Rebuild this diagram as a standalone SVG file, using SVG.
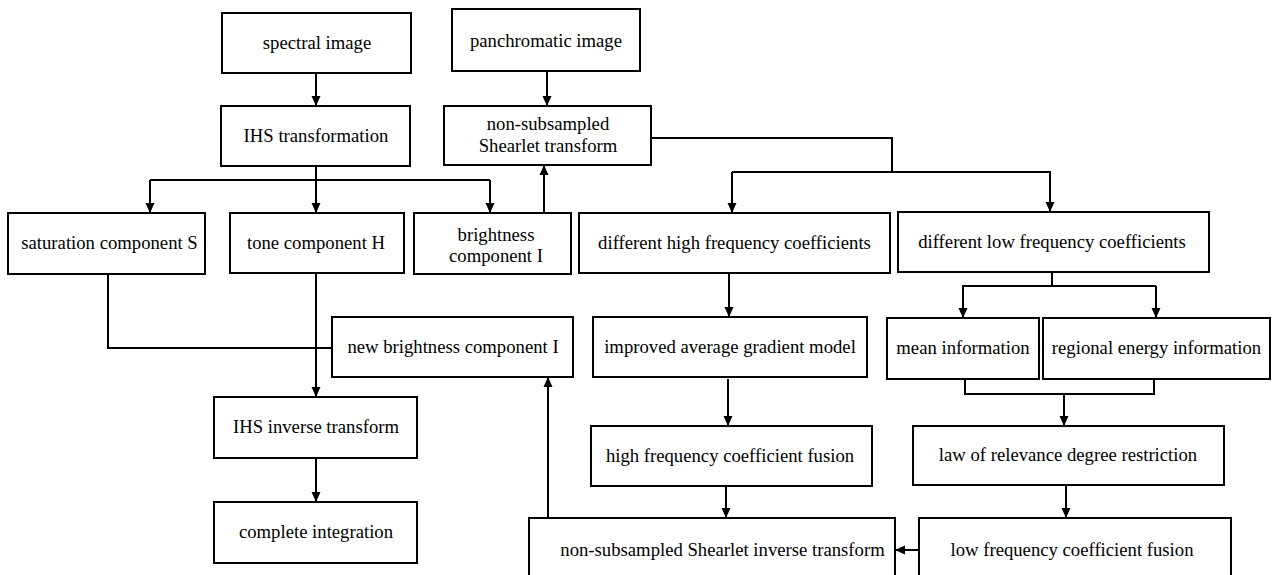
<svg xmlns="http://www.w3.org/2000/svg" width="1272" height="575" viewBox="0 0 1272 575">
<style>
.box{fill:#fff;stroke:#000;stroke-width:2}
.t{font-family:"Liberation Serif","Times New Roman",serif;font-size:18.7px;fill:#000;text-anchor:middle}
.c{fill:none;stroke:#000;stroke-width:2}
</style>
<defs>
<marker id="ah" markerWidth="10" markerHeight="10" refX="10" refY="5" orient="auto" markerUnits="userSpaceOnUse">
<path d="M0,0.5 L10,5 L0,9.5 z" fill="#000"/>
</marker>
</defs>
<rect width="1272" height="575" fill="#fff"/>
<g id="connectors">
<path class="c" d="M316,73 V106" marker-end="url(#ah)"/>
<path class="c" d="M316,166 V180"/>
<path class="c" d="M150,180 H490"/>
<path class="c" d="M150,180 V213" marker-end="url(#ah)"/>
<path class="c" d="M316,180 V213" marker-end="url(#ah)"/>
<path class="c" d="M490,180 V213" marker-end="url(#ah)"/>
<path class="c" d="M547,71 V106" marker-end="url(#ah)"/>
<path class="c" d="M544,213 V165" marker-end="url(#ah)"/>
<path class="c" d="M651,138 H892 V172"/>
<path class="c" d="M732,172 H1051"/>
<path class="c" d="M732,172 V213" marker-end="url(#ah)"/>
<path class="c" d="M1050,172 V212" marker-end="url(#ah)"/>
<path class="c" d="M729,273 V317" marker-end="url(#ah)"/>
<path class="c" d="M728,379 V426" marker-end="url(#ah)"/>
<path class="c" d="M726,486 V518" marker-end="url(#ah)"/>
<path class="c" d="M1052,272 V286"/>
<path class="c" d="M962,286 H1156"/>
<path class="c" d="M963,286 V318" marker-end="url(#ah)"/>
<path class="c" d="M1156,286 V318" marker-end="url(#ah)"/>
<path class="c" d="M965,379 V394 H1154 V379"/>
<path class="c" d="M1064,394 V426" marker-end="url(#ah)"/>
<path class="c" d="M1066,485 V518" marker-end="url(#ah)"/>
<path class="c" d="M919,550 H895" marker-end="url(#ah)"/>
<path class="c" d="M548,518 V377" marker-end="url(#ah)"/>
<path class="c" d="M108,274 V348 H332"/>
<path class="c" d="M316,273 V397" marker-end="url(#ah)"/>
<path class="c" d="M316,458 V502" marker-end="url(#ah)"/>
</g>
<g id="spectral"><rect class="box" x="222" y="13" width="189" height="60"/><text class="t" x="317" y="49">spectral image</text></g>
<g id="ihs"><rect class="box" x="221" y="106" width="189" height="60"/><text class="t" x="316" y="142">IHS transformation</text></g>
<g id="pan"><rect class="box" x="452" y="9" width="188" height="62"/><text class="t" x="546" y="47">panchromatic image</text></g>
<g id="nsst"><rect class="box" x="444" y="106" width="207" height="59"/><text class="t" x="548" y="130">non-subsampled</text><text class="t" x="548" y="152">Shearlet transform</text></g>
<g id="sat"><rect class="box" x="8" y="213" width="197" height="61"/><text class="t" x="109.5" y="249">saturation component S</text></g>
<g id="tone"><rect class="box" x="230" y="213" width="174" height="60"/><text class="t" x="316" y="249">tone component H</text></g>
<g id="bright"><rect class="box" x="414" y="213" width="157" height="61"/><text class="t" x="496" y="241">brightness</text><text class="t" x="496" y="262">component I</text></g>
<g id="dhigh"><rect class="box" x="579" y="213" width="311" height="60"/><text class="t" x="734.5" y="249">different high frequency coefficients</text></g>
<g id="dlow"><rect class="box" x="898" y="212" width="311" height="60"/><text class="t" x="1052" y="248">different low frequency coefficients</text></g>
<g id="newb"><rect class="box" x="332" y="317" width="241" height="60"/><text class="t" x="453" y="353">new brightness component I</text></g>
<g id="improved"><rect class="box" x="593" y="317" width="274" height="60"/><text class="t" x="730" y="353">improved average gradient model</text></g>
<g id="mean"><rect class="box" x="887" y="318" width="152" height="61"/><text class="t" x="963" y="354">mean information</text></g>
<g id="regional"><rect class="box" x="1043" y="318" width="227" height="61"/><text class="t" x="1156.5" y="354">regional energy information</text></g>
<g id="ihsinv"><rect class="box" x="214" y="397" width="203" height="61"/><text class="t" x="316" y="433">IHS inverse transform</text></g>
<g id="hfuse"><rect class="box" x="591" y="426" width="281" height="60"/><text class="t" x="730" y="462">high frequency coefficient fusion</text></g>
<g id="law"><rect class="box" x="913" y="426" width="311" height="59"/><text class="t" x="1068" y="461">law of relevance degree restriction</text></g>
<g id="complete"><rect class="box" x="214" y="502" width="203" height="61"/><text class="t" x="316" y="538">complete integration</text></g>
<g id="nsstinv"><rect class="box" x="529" y="518" width="366" height="62"/><text class="t" x="722.5" y="556">non-subsampled Shearlet inverse transform</text></g>
<g id="lfuse"><rect class="box" x="919" y="518" width="312" height="62"/><text class="t" x="1072" y="556">low frequency coefficient fusion</text></g>
</svg>
